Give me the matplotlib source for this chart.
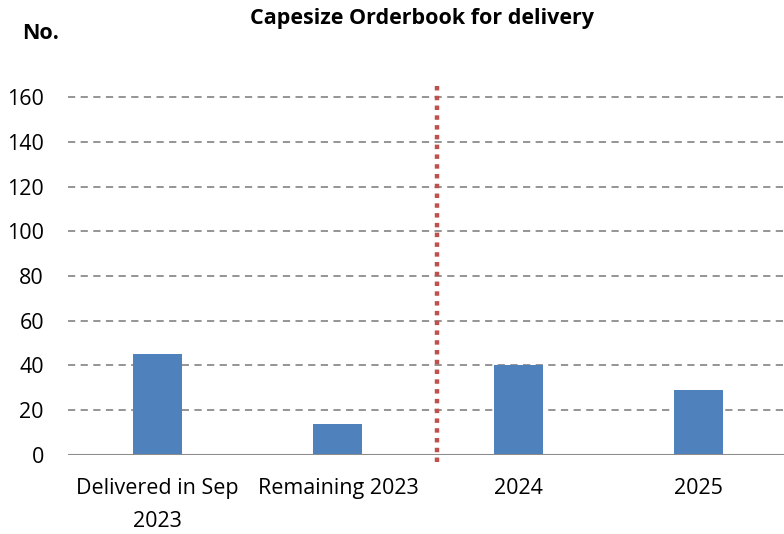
import matplotlib
matplotlib.use("Agg")
import matplotlib.pyplot as plt

categories = ["Delivered in Sep\n2023", "Remaining 2023", "2024", "2025"]
values = [45, 14, 40, 29]
yticks = [0, 20, 40, 60, 80, 100, 120, 140, 160]
divider_x = 1.55

plt.rcParams['font.family'] = ['Open Sans', 'DejaVu Sans']

fig = plt.figure(figsize=(7.84, 5.34), dpi=100)
ax = fig.add_axes([0.0861, 0.148, 1 - 0.0861, 0.8434 - 0.148])

x = list(range(len(categories)))
for yt in yticks[1:]:
    ax.axhline(yt, color="#8c8c8c", lw=1.3, ls=(0, (4, 3)), zorder=1)
ax.bar(x, values, width=0.272, color="#4F81BD", zorder=2)
ax.axhline(0, color="#8c8c8c", lw=1.5, zorder=3)
ax.plot([divider_x, divider_x], [-3, 166], color="#C0504D", lw=3.2,
        ls=(0, (1, 1.2)), zorder=4, clip_on=False)

ax.set_xlim(-0.5, 3.475)
ax.set_ylim(0, 166)
ax.set_yticks(yticks)
ax.set_yticklabels([str(v) for v in yticks], fontsize=15.5)
ax.set_xticks(x)
ax.set_xticklabels(categories, fontsize=15.5, linespacing=1.75)
ax.tick_params(axis="both", length=0)
ax.tick_params(axis="y", pad=17)
ax.tick_params(axis="x", pad=16.5)
for s in ax.spines.values():
    s.set_visible(False)

fig.text(0.538, 0.966, "Capesize Orderbook for delivery", fontsize=15.5,
         fontweight="bold", ha="center", va="center")
fig.text(0.028, 0.938, "No.", fontsize=15.5, fontweight="bold", ha="left", va="center")

fig.savefig("out.png", dpi=100)
